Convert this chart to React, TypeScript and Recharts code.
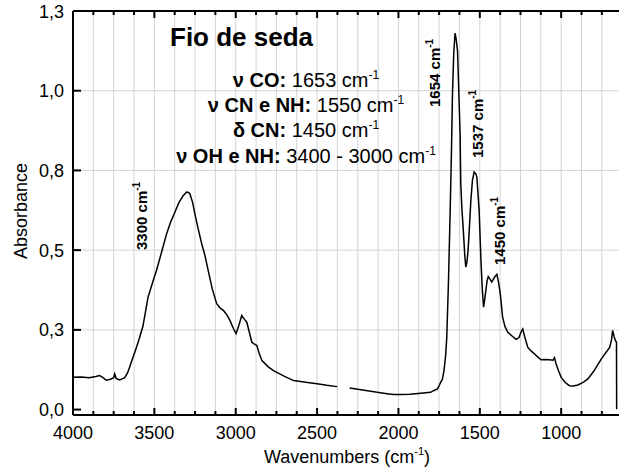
import { CartesianGrid, Line, LineChart, XAxis, YAxis } from "recharts";

// FTIR spectrum of silk thread
const wavenumbers = [
  4000, 3950, 3900, 3860, 3837, 3815, 3795, 3770, 3750, 3744, 3735, 3713, 3695, 3682, 3665, 3652, 3641, 3621,
  3590, 3570, 3539, 3510, 3487, 3455, 3425, 3400, 3374, 3350, 3323, 3302, 3290, 3282, 3265, 3251, 3230, 3209,
  3190, 3169, 3145, 3117, 3095, 3076, 3055, 3035, 3015, 2998, 2980, 2963, 2945, 2932, 2915, 2901, 2885, 2870,
  2855, 2839, 2800, 2768, 2700, 2645, 2570, 2500, 2440, 2377, 2340, 2300, 2200, 2130, 2060, 2028, 1987, 1930,
  1863, 1802, 1781, 1760, 1750, 1740, 1730, 1720, 1710, 1703, 1693, 1683, 1674, 1668, 1660, 1652, 1645, 1637,
  1621, 1617, 1610, 1600, 1592, 1586, 1580, 1572, 1563, 1555, 1545, 1535, 1525, 1518, 1504, 1493, 1485, 1477,
  1470, 1463, 1455, 1448, 1438, 1427, 1410, 1395, 1385, 1374, 1360, 1345, 1329, 1300, 1277, 1260, 1245, 1236,
  1225, 1205, 1185, 1165, 1140, 1123, 1100, 1072, 1050, 1041, 1031, 1015, 1000, 975, 949, 925, 897, 865, 836,
  800, 753, 702, 690, 684, 674, 667, 660, 659,
];
const absorbance = [
  0.101, 0.102, 0.1, 0.104, 0.107, 0.1, 0.092, 0.095, 0.1, 0.112, 0.098, 0.093, 0.097, 0.1, 0.115, 0.133, 0.15, 0.178,
  0.227, 0.262, 0.352, 0.4, 0.436, 0.495, 0.551, 0.588, 0.619, 0.648, 0.671, 0.682, 0.681, 0.677, 0.65, 0.614, 0.565, 0.52,
  0.485, 0.436, 0.38, 0.332, 0.318, 0.311, 0.298, 0.279, 0.255, 0.238, 0.265, 0.295, 0.282, 0.274, 0.24, 0.211, 0.205, 0.201,
  0.175, 0.154, 0.134, 0.122, 0.104, 0.091, 0.086, 0.081, 0.076, 0.072, null, 0.068, 0.06, 0.054, 0.049, 0.047, 0.047, 0.048,
  0.051, 0.054, 0.06, 0.065, 0.075, 0.086, 0.095, 0.122, 0.17, 0.227, 0.394, 0.603, 0.813, 0.99, 1.12, 1.181, 1.16, 1.126,
  0.865, 0.708, 0.63, 0.551, 0.48, 0.447, 0.46, 0.499, 0.58, 0.656, 0.72, 0.745, 0.74, 0.729, 0.624, 0.468, 0.38, 0.321,
  0.345, 0.373, 0.405, 0.417, 0.41, 0.4, 0.415, 0.424, 0.4, 0.363, 0.29, 0.26, 0.243, 0.23, 0.22, 0.225, 0.245, 0.253,
  0.23, 0.195, 0.184, 0.175, 0.163, 0.156, 0.157, 0.156, 0.155, 0.163, 0.143, 0.12, 0.101, 0.085, 0.075, 0.074, 0.077, 0.085, 0.096,
  0.12, 0.159, 0.195, 0.22, 0.248, 0.228, 0.217, 0.211, 0.001,
];

const xTicks = [
  4000, 3875, 3750, 3625, 3500, 3375, 3250, 3125, 3000, 2875, 2750, 2625, 2500, 2375, 2250, 2125, 2000,
  1875, 1750, 1625, 1500, 1375, 1250, 1125, 1000, 875, 750,
];
const xLabels = [4000, 3500, 3000, 2500, 2000, 1500, 1000];
const yTicks = [0, 0.25, 0.5, 0.75, 1.0, 1.25];
const yTickLabels = ["0,0", "0,3", "0,5", "0,8", "1,0", "1,3"];
const yGrid = [0.25, 0.5, 0.75, 1.0];

const data = wavenumbers.map((wn, i) => ({ wn, abs: absorbance[i] }));

const FONT = "'Liberation Sans', Arial, sans-serif";
const PLOT_LEFT = 73;
const PLOT_TOP = 11;
const PLOT_BOTTOM = 415;
const PLOT_RIGHT = 623;

const BottomTick = (props: any) => {
  const { x, payload } = props;
  const major = xLabels.includes(payload.value);
  return (
    <g>
      <line x1={x} x2={x} y1={PLOT_BOTTOM} y2={PLOT_BOTTOM - (major ? 7 : 4)} stroke="#000" strokeWidth={2} />
      {major && (
        <text x={x} y={439} textAnchor="middle" fontSize={18} fontFamily={FONT} fill="#000">
          {payload.value}
        </text>
      )}
    </g>
  );
};

const TopTick = (props: any) => {
  const { x, payload } = props;
  const major = xLabels.includes(payload.value);
  return <line x1={x} x2={x} y1={PLOT_TOP} y2={PLOT_TOP + (major ? 7 : 4)} stroke="#000" strokeWidth={2} />;
};

const LeftTick = (props: any) => {
  const { y, payload } = props;
  const idx = yTicks.indexOf(payload.value);
  return (
    <g>
      <line x1={PLOT_LEFT} x2={PLOT_LEFT + 8} y1={y} y2={y} stroke="#000" strokeWidth={2} />
      <text x={64} y={y + 6.5} textAnchor="end" fontSize={18} fontFamily={FONT} fill="#000">
        {yTickLabels[idx]}
      </text>
    </g>
  );
};

const RightTick = (props: any) => {
  const { y } = props;
  return <line x1={PLOT_RIGHT - 11} x2={PLOT_RIGHT} y1={y} y2={y} stroke="#000" strokeWidth={2} />;
};

const Sup = ({ dy = -8 }: { dy?: number }) => (
  <tspan fontSize={12} dy={dy}>
    -1
  </tspan>
);

const Vlabel = ({ x, y, text }: { x: number; y: number; text: string }) => (
  <text transform={`translate(${x},${y}) rotate(-90)`} fontSize={15} fontWeight="bold" fontFamily={FONT} fill="#000">
    {text}
    <tspan fontSize={10} dy={-7}>
      -1
    </tspan>
  </text>
);

export default function App() {
  return (
    <div
      style={{
        position: "absolute",
        left: 0,
        top: 0,
        width: 619,
        height: 470,
        overflow: "hidden",
        background: "#fff",
        fontFamily: FONT,
      }}
    >
      <LineChart width={PLOT_RIGHT} height={470} data={data} margin={{ top: 0, right: 0, bottom: 0, left: 0 }}>
        <CartesianGrid
          xAxisId="bottom"
          yAxisId="left"
          stroke="#d4d4d4"
          strokeWidth={1}
          horizontalValues={yGrid}
        />
        <XAxis
          xAxisId="bottom"
          dataKey="wn"
          type="number"
          domain={[620, 4000]}
          reversed
          ticks={xTicks}
          interval={0}
          height={55}
          tickLine={false}
          axisLine={{ stroke: "#000", strokeWidth: 2 }}
          tick={<BottomTick />}
          allowDataOverflow
        />
        <XAxis
          xAxisId="top"
          orientation="top"
          dataKey="wn"
          type="number"
          domain={[620, 4000]}
          reversed
          ticks={xTicks}
          interval={0}
          height={PLOT_TOP}
          tickLine={false}
          axisLine={{ stroke: "#000", strokeWidth: 2 }}
          tick={<TopTick />}
          allowDataOverflow
        />
        <YAxis
          yAxisId="left"
          type="number"
          domain={[-0.017, 1.25]}
          ticks={yTicks}
          interval={0}
          width={PLOT_LEFT}
          tickLine={false}
          axisLine={{ stroke: "#000", strokeWidth: 2 }}
          tick={<LeftTick />}
          allowDataOverflow
        />
        <YAxis
          yAxisId="right"
          orientation="right"
          type="number"
          domain={[-0.017, 1.25]}
          ticks={yTicks}
          interval={0}
          width={0}
          tickLine={false}
          axisLine={false}
          tick={<RightTick />}
          allowDataOverflow
        />
        <Line
          xAxisId="bottom"
          yAxisId="left"
          dataKey="abs"
          type="linear"
          stroke="#000"
          strokeWidth={1.5}
          dot={false}
          connectNulls={false}
          isAnimationActive={false}
        />
      </LineChart>
      <svg
        width={619}
        height={470}
        style={{ position: "absolute", left: 0, top: 0, pointerEvents: "none" }}
        fontFamily={FONT}
      >
        <text x={170} y={46} fontSize={26} fontWeight="bold" fill="#000">
          Fio de seda
        </text>
        <text x={306} y={87} fontSize={20} textAnchor="middle" fill="#000">
          <tspan fontWeight="bold">ν CO:</tspan> 1653 cm
          <Sup />
        </text>
        <text x={306} y={112} fontSize={20} textAnchor="middle" fill="#000">
          <tspan fontWeight="bold">ν CN e NH:</tspan> 1550 cm
          <Sup />
        </text>
        <text x={306} y={137} fontSize={20} textAnchor="middle" fill="#000">
          <tspan fontWeight="bold">δ CN:</tspan> 1450 cm
          <Sup />
        </text>
        <text x={306} y={163} fontSize={20} textAnchor="middle" fill="#000">
          <tspan fontWeight="bold">ν OH e NH:</tspan> 3400 - 3000 cm
          <Sup />
        </text>
        <Vlabel x={147} y={250} text="3300 cm" />
        <Vlabel x={440} y={107} text="1654 cm" />
        <Vlabel x={483} y={158} text="1537 cm" />
        <Vlabel x={505} y={265} text="1450 cm" />
        <text transform="translate(27,211) rotate(-90)" fontSize={18} textAnchor="middle" fill="#000">
          Absorbance
        </text>
        <text x={347} y={463} fontSize={18} textAnchor="middle" fill="#000">
          Wavenumbers (cm
          <tspan fontSize={11} dy={-8}>
            -1
          </tspan>
          <tspan dy={8}>)</tspan>
        </text>
      </svg>
    </div>
  );
}
